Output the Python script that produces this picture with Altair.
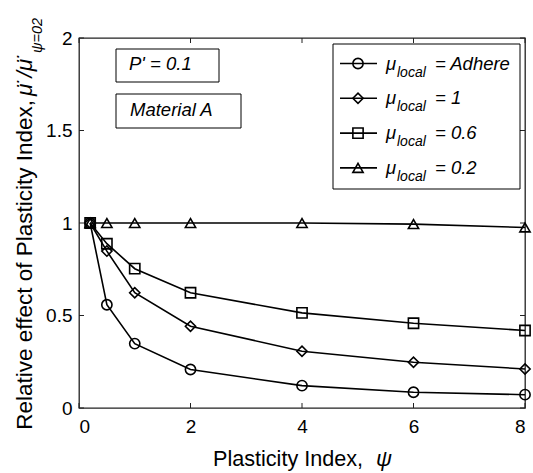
import altair as alt
import pandas as pd

# ---- data ----
psi = [0.2, 0.5, 1, 2, 4, 6, 8]
mu_adhere = [1.0, 0.558, 0.348, 0.208, 0.121, 0.085, 0.072]
mu_1 = [1.0, 0.848, 0.623, 0.442, 0.307, 0.247, 0.211]
mu_06 = [1.0, 0.888, 0.753, 0.623, 0.514, 0.458, 0.419]
mu_02 = [1.0, 1.0, 1.0, 1.0, 1.0, 0.994, 0.976]
series_labels = ["Adhere", "1", "0.6", "0.2"]
series_shapes = ["circle", "diamond", "square", "triangle-up"]
x_ticks = [0, 2, 4, 6, 8]
y_ticks = [0, 0.5, 1, 1.5, 2]

W, H = 446, 370
FONT = "Liberation Sans"

rows = []
for lab, vals in zip(series_labels, [mu_adhere, mu_1, mu_06, mu_02]):
    for p, v in zip(psi, vals):
        rows.append({"series": lab, "psi": p, "ratio": v})
df = pd.DataFrame(rows)

xs = alt.Scale(domain=[0, 8], nice=False, zero=False)
ys = alt.Scale(domain=[0, 2], nice=False, zero=False)

base = alt.Chart(df)
lines = base.mark_line(color="black", strokeWidth=1.6).encode(
    x=alt.X("psi:Q", scale=xs,
            axis=alt.Axis(values=x_ticks, title=None, format="~g", labelPadding=9)),
    y=alt.Y("ratio:Q", scale=ys,
            axis=alt.Axis(values=y_ticks, title=None, format="~g", labelPadding=7)),
    detail="series:N",
)
points = base.mark_point(filled=False, color="black", strokeWidth=1.6, size=105, opacity=1).encode(
    x=alt.X("psi:Q", scale=xs),
    y=alt.Y("ratio:Q", scale=ys),
    shape=alt.Shape("series:N", scale=alt.Scale(domain=series_labels, range=series_shapes), legend=None),
)

# inward ticks (MATLAB style box)
xt = alt.Chart(pd.DataFrame({"t": x_ticks}))
yt = alt.Chart(pd.DataFrame({"t": y_ticks}))
tick_len = 5
ticks = [
    xt.mark_rule(color="#222", strokeWidth=1).encode(x=alt.X("t:Q", scale=xs), y=alt.value(H), y2=alt.value(H - tick_len)),
    xt.mark_rule(color="#222", strokeWidth=1).encode(x=alt.X("t:Q", scale=xs), y=alt.value(0), y2=alt.value(tick_len)),
    yt.mark_rule(color="#222", strokeWidth=1).encode(y=alt.Y("t:Q", scale=ys), x=alt.value(0), x2=alt.value(tick_len)),
    yt.mark_rule(color="#222", strokeWidth=1).encode(y=alt.Y("t:Q", scale=ys), x=alt.value(W), x2=alt.value(W - tick_len)),
]

one = pd.DataFrame({"a": [0]})


def txt(s, x, y, size, italic=False, angle=0, align="left", baseline="alphabetic"):
    kw = dict(text=s, font=FONT, fontSize=size, fontStyle="italic" if italic else "normal",
              align=align, baseline=baseline, color="black")
    if angle:
        kw["angle"] = angle
    return alt.Chart(one).mark_text(**kw).encode(x=alt.value(x), y=alt.value(y))


def box(x1, x2, y1, y2):
    return alt.Chart(one).mark_rect(fill="white", stroke="black", strokeWidth=1).encode(
        x=alt.value(x1), x2=alt.value(x2), y=alt.value(y1), y2=alt.value(y2))


annots = [
    box(37, 140, 11, 44), txt("P' = 0.1", 50, 32, 18.5, italic=True),
    box(37, 162, 56, 90), txt("Material A", 51, 78, 18.5, italic=True),
]

# legend
legend = [box(254, 441, 6, 151)]
for i, (lab, shp) in enumerate(zip(series_labels, series_shapes)):
    ry = 25.5 + 34.8 * i
    legend.append(alt.Chart(one).mark_rule(color="black", strokeWidth=1.6).encode(
        x=alt.value(261), x2=alt.value(298), y=alt.value(ry)))
    legend.append(alt.Chart(one).mark_point(shape=shp, filled=False, color="black", strokeWidth=1.6,
                                            size=105, opacity=1).encode(x=alt.value(279), y=alt.value(ry)))
    legend.append(txt("\u03bc", 307, ry + 6, 18.5, italic=True))
    legend.append(txt("local", 318, ry + 13, 14, italic=True))
    legend.append(txt("= " + lab, 356, ry + 6, 18.5, italic=True))

# axis titles
titles = [
    txt("Plasticity Index,", 134, 428, 21.6),
    txt("\u03c8", 297, 428, 22, italic=True),
    txt("Relative effect of Plasticity Index,", -47, 62, 22.5, angle=270, align="right"),
    txt("\u03bc\u0308 /\u03bc\u0308", -47, 58, 22.5, italic=True, angle=270, align="left"),
    txt("\u03c8=02", -37, 15, 14.5, italic=True, angle=270, align="left"),
]

chart = alt.layer(*ticks, lines, points, *annots, *legend, *titles).properties(
    width=W, height=H,
    padding={"left": 79, "top": 38, "right": 8, "bottom": 65},
    autosize="none",
    background="white",
).configure_view(stroke="#222", strokeWidth=1.3).configure_axis(
    labelFont=FONT, labelFontSize=19, labelColor="black", domain=False, ticks=False, grid=False,
)

chart.save("out.html", embed_options={"renderer": "svg", "actions": False})
